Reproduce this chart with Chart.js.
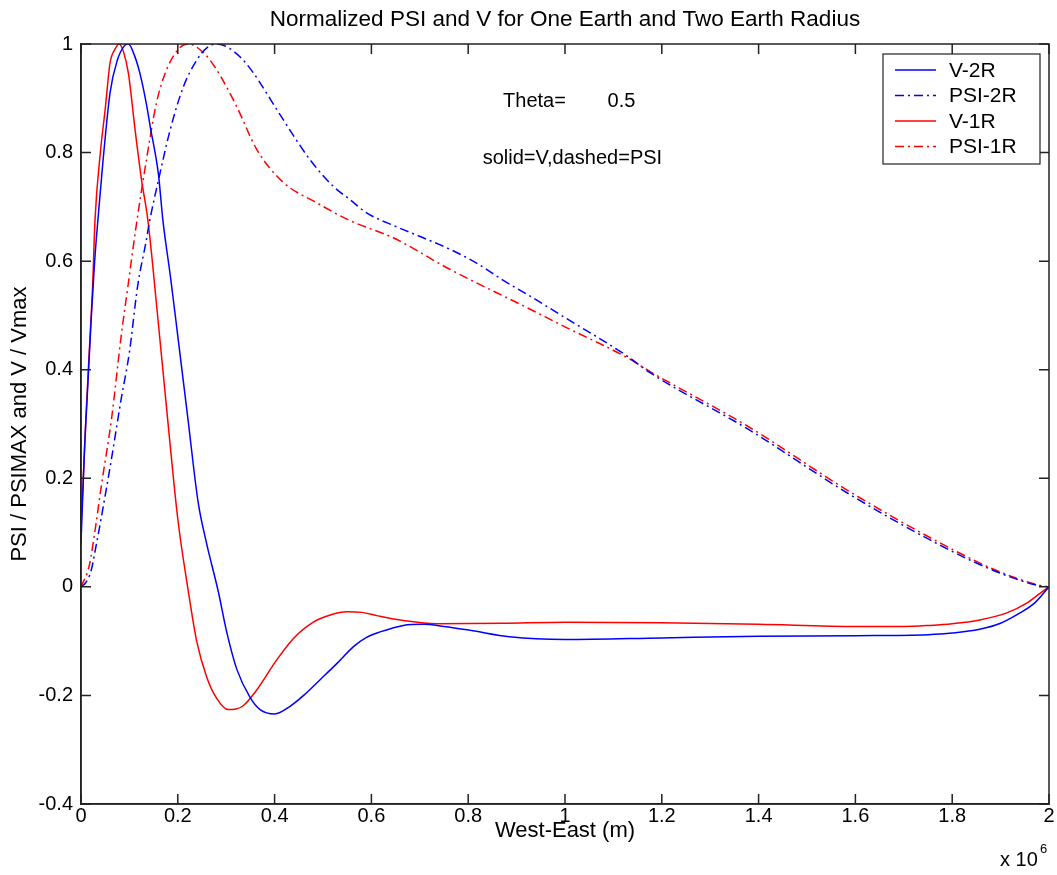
<!DOCTYPE html>
<html lang="en">
<head>
    <meta charset="UTF-8">
    <title>Normalized PSI and V</title>
    <script src="https://cdn.jsdelivr.net/npm/chart.js"></script>
    <style>
        body {
            margin: 0;
            padding: 0;
            background: #ffffff;
        }
        .wrap {
            width: 1057px;
            height: 875px;
        }
    </style>
</head>
<body>
    <div class="wrap">
        <canvas id="psiChart" width="1057" height="875"></canvas>
    </div>

    <script>
        // values (x in units of 1e6 m)
        const v2rX = [0, 0.007, 0.014, 0.021, 0.028, 0.035, 0.045, 0.06, 0.075, 0.09, 0.098, 0.11, 0.122, 0.135, 0.143, 0.16, 0.169, 0.185, 0.2, 0.221, 0.242, 0.259, 0.284, 0.301, 0.322, 0.349, 0.37, 0.4, 0.432, 0.46, 0.494, 0.53, 0.563, 0.59, 0.618, 0.666, 0.707, 0.75, 0.804, 0.886, 1.0, 1.2, 1.4, 1.6, 1.75, 1.8, 1.857, 1.9, 1.94, 1.97, 2.0];
        const v2rY = [0.08, 0.248, 0.37, 0.493, 0.597, 0.677, 0.78, 0.91, 0.97, 0.997, 1.0, 0.98, 0.945, 0.89, 0.848, 0.76, 0.677, 0.57, 0.462, 0.309, 0.156, 0.082, -0.01, -0.083, -0.152, -0.203, -0.226, -0.234, -0.22, -0.2, -0.171, -0.14, -0.11, -0.093, -0.083, -0.071, -0.069, -0.073, -0.08, -0.092, -0.097, -0.094, -0.091, -0.09, -0.088, -0.085, -0.078, -0.067, -0.048, -0.03, 0];

        const psi2rX = [0, 0.01, 0.021, 0.03, 0.042, 0.063, 0.083, 0.1, 0.117, 0.134, 0.141, 0.163, 0.184, 0.211, 0.239, 0.26, 0.28, 0.301, 0.33, 0.356, 0.404, 0.44, 0.473, 0.521, 0.555, 0.59, 0.65, 0.707, 0.762, 0.82, 0.87, 0.927, 1.0, 1.127, 1.175, 1.381, 1.587, 1.794, 1.9, 1.98, 2.0];
        const psi2rY = [0, 0.008, 0.03, 0.07, 0.128, 0.236, 0.346, 0.432, 0.554, 0.634, 0.67, 0.761, 0.841, 0.92, 0.97, 0.993, 1.0, 0.995, 0.975, 0.947, 0.88, 0.83, 0.787, 0.738, 0.714, 0.689, 0.664, 0.643, 0.622, 0.595, 0.566, 0.536, 0.496, 0.426, 0.395, 0.289, 0.171, 0.068, 0.025, 0.002, 0];

        const v1rX = [0, 0.002, 0.004, 0.01, 0.017, 0.024, 0.029, 0.04, 0.05, 0.06, 0.07, 0.079, 0.088, 0.098, 0.112, 0.125, 0.138, 0.159, 0.179, 0.2, 0.221, 0.239, 0.26, 0.28, 0.304, 0.32, 0.335, 0.363, 0.404, 0.439, 0.48, 0.515, 0.549, 0.58, 0.611, 0.666, 0.735, 0.872, 1.0, 1.2, 1.4, 1.6, 1.7, 1.754, 1.8, 1.857, 1.913, 1.954, 1.98, 2.0];
        const v1rY = [0.11, 0.15, 0.186, 0.309, 0.432, 0.554, 0.677, 0.8, 0.88, 0.965, 0.99, 1.0, 0.985, 0.946, 0.84, 0.75, 0.677, 0.493, 0.309, 0.125, -0.004, -0.1, -0.167, -0.205, -0.226, -0.225, -0.219, -0.19, -0.135, -0.095, -0.065, -0.052, -0.046, -0.047, -0.053, -0.062, -0.068, -0.067, -0.065, -0.066, -0.069, -0.073, -0.073, -0.071, -0.068, -0.061, -0.048, -0.03, -0.013, 0];

        const psi1rX = [0, 0.017, 0.03, 0.042, 0.063, 0.083, 0.097, 0.114, 0.132, 0.156, 0.177, 0.204, 0.222, 0.253, 0.28, 0.321, 0.363, 0.418, 0.486, 0.555, 0.645, 0.762, 0.92, 1.0, 1.127, 1.175, 1.381, 1.587, 1.794, 1.9, 1.98, 2.0];
        const psi1rY = [0, 0.039, 0.11, 0.186, 0.309, 0.462, 0.554, 0.665, 0.769, 0.892, 0.953, 0.993, 1.0, 0.984, 0.953, 0.886, 0.806, 0.745, 0.708, 0.675, 0.643, 0.585, 0.515, 0.479, 0.423, 0.397, 0.294, 0.176, 0.072, 0.027, 0.003, 0];

        const seriesLabels = ['V-2R', 'PSI-2R', 'V-1R', 'PSI-1R'];
        const xTicks = [0, 0.2, 0.4, 0.6, 0.8, 1, 1.2, 1.4, 1.6, 1.8, 2];
        const yTicks = [-0.4, -0.2, 0, 0.2, 0.4, 0.6, 0.8, 1];

        const FONT = "'Liberation Sans', Arial, sans-serif";
        const DASHDOT = [9, 4, 2, 4];

        function toPoints(xs, ys) {
            return xs.map((x, i) => ({ x: x, y: ys[i] }));
        }

        function lineSet(label, xs, ys, color, dash) {
            return {
                label: label,
                data: toPoints(xs, ys),
                borderColor: color,
                backgroundColor: color,
                borderWidth: 1.5,
                borderDash: dash,
                pointRadius: 0,
                fill: false,
                cubicInterpolationMode: 'monotone'
            };
        }

        // inward ticks on all four sides, box, legend, notes
        const matlabBox = {
            id: 'matlabBox',
            afterDraw(chart) {
                const ctx = chart.ctx;
                const a = chart.chartArea;
                const xs = chart.scales.x;
                const ys = chart.scales.y;
                ctx.save();
                ctx.strokeStyle = '#222';
                ctx.lineWidth = 1.5;
                ctx.strokeRect(a.left, a.top, a.right - a.left, a.bottom - a.top);
                ctx.beginPath();
                xTicks.forEach(v => {
                    const px = xs.getPixelForValue(v);
                    ctx.moveTo(px, a.bottom); ctx.lineTo(px, a.bottom - 10);
                    ctx.moveTo(px, a.top); ctx.lineTo(px, a.top + 10);
                });
                yTicks.forEach(v => {
                    const py = ys.getPixelForValue(v);
                    ctx.moveTo(a.left, py); ctx.lineTo(a.left + 10, py);
                    ctx.moveTo(a.right, py); ctx.lineTo(a.right - 10, py);
                });
                ctx.stroke();

                // text notes placed in data coordinates
                ctx.fillStyle = '#000';
                ctx.font = '20px ' + FONT;
                ctx.textBaseline = 'middle';
                ctx.textAlign = 'left';
                ctx.fillText('Theta=', xs.getPixelForValue(0.872), ys.getPixelForValue(0.895));
                ctx.fillText('0.5', xs.getPixelForValue(1.088), ys.getPixelForValue(0.895));
                ctx.fillText('solid=V,dashed=PSI', xs.getPixelForValue(0.83), ys.getPixelForValue(0.79));

                // x 10^6 multiplier
                ctx.textBaseline = 'alphabetic';
                ctx.font = '20px ' + FONT;
                ctx.fillText('x 10', 1000, 866);
                ctx.font = '13px ' + FONT;
                ctx.fillText('6', 1040, 853);

                // legend box
                const lx = 883, ly = 54, lw = 157, lh = 110;
                ctx.fillStyle = '#fff';
                ctx.fillRect(lx, ly, lw, lh);
                ctx.lineWidth = 1.2;
                ctx.strokeStyle = '#222';
                ctx.setLineDash([]);
                ctx.strokeRect(lx, ly, lw, lh);
                ctx.font = '21px ' + FONT;
                ctx.textBaseline = 'middle';
                chart.data.datasets.forEach((ds, i) => {
                    const cy = ly + 16 + i * 25.5;
                    ctx.strokeStyle = ds.borderColor;
                    ctx.lineWidth = 1.5;
                    ctx.setLineDash(ds.borderDash || []);
                    ctx.beginPath();
                    ctx.moveTo(lx + 12, cy);
                    ctx.lineTo(lx + 53, cy);
                    ctx.stroke();
                    ctx.setLineDash([]);
                    ctx.fillStyle = '#000';
                    ctx.fillText(ds.label, lx + 66, cy + 1);
                });
                ctx.restore();
            }
        };

        const ctx = document.getElementById('psiChart').getContext('2d');
        const chart = new Chart(ctx, {
            type: 'line',
            data: {
                datasets: [
                    lineSet(seriesLabels[0], v2rX, v2rY, '#0000ff', []),
                    lineSet(seriesLabels[1], psi2rX, psi2rY, '#0000ff', DASHDOT),
                    lineSet(seriesLabels[2], v1rX, v1rY, '#ff0000', []),
                    lineSet(seriesLabels[3], psi1rX, psi1rY, '#ff0000', DASHDOT)
                ]
            },
            options: {
                responsive: false,
                animation: false,
                layout: { padding: { top: 0, right: 8, left: 0, bottom: 0 } },
                plugins: {
                    legend: { display: false },
                    tooltip: { enabled: false },
                    title: {
                        display: true,
                        text: 'Normalized PSI and V for One Earth and Two Earth Radius',
                        fullSize: false,
                        color: '#000',
                        font: { family: FONT, size: 22.5, weight: 'normal', lineHeight: 1.2 },
                        padding: { top: 6, bottom: 11 }
                    }
                },
                scales: {
                    x: {
                        type: 'linear',
                        min: 0,
                        max: 2,
                        afterFit(scale) { scale.height = 71; },
                        afterBuildTicks(scale) { scale.ticks = xTicks.map(v => ({ value: v })); },
                        ticks: {
                            color: '#000',
                            font: { family: FONT, size: 20 },
                            padding: 0,
                            maxRotation: 0,
                            callback: v => String(Number(v.toFixed(1)))
                        },
                        grid: { drawOnChartArea: false, drawTicks: false },
                        border: { display: true, color: '#222', width: 1.5 },
                        title: {
                            display: true,
                            text: 'West-East (m)',
                            color: '#000',
                            font: { family: FONT, size: 22 },
                            padding: { top: 0, bottom: 31 }
                        }
                    },
                    y: {
                        min: -0.4,
                        max: 1,
                        afterFit(scale) { scale.width = 81; },
                        afterBuildTicks(scale) { scale.ticks = yTicks.map(v => ({ value: v })); },
                        ticks: {
                            color: '#000',
                            font: { family: FONT, size: 20 },
                            padding: 8,
                            callback: v => String(Number(v.toFixed(1)))
                        },
                        grid: { drawOnChartArea: false, drawTicks: false },
                        border: { display: true, color: '#222', width: 1.5 },
                        title: {
                            display: true,
                            text: 'PSI / PSIMAX and V / Vmax',
                            color: '#000',
                            font: { family: FONT, size: 22 },
                            padding: { top: 7, bottom: 0 }
                        }
                    }
                }
            },
            plugins: [matlabBox]
        });
    </script>
</body>
</html>
